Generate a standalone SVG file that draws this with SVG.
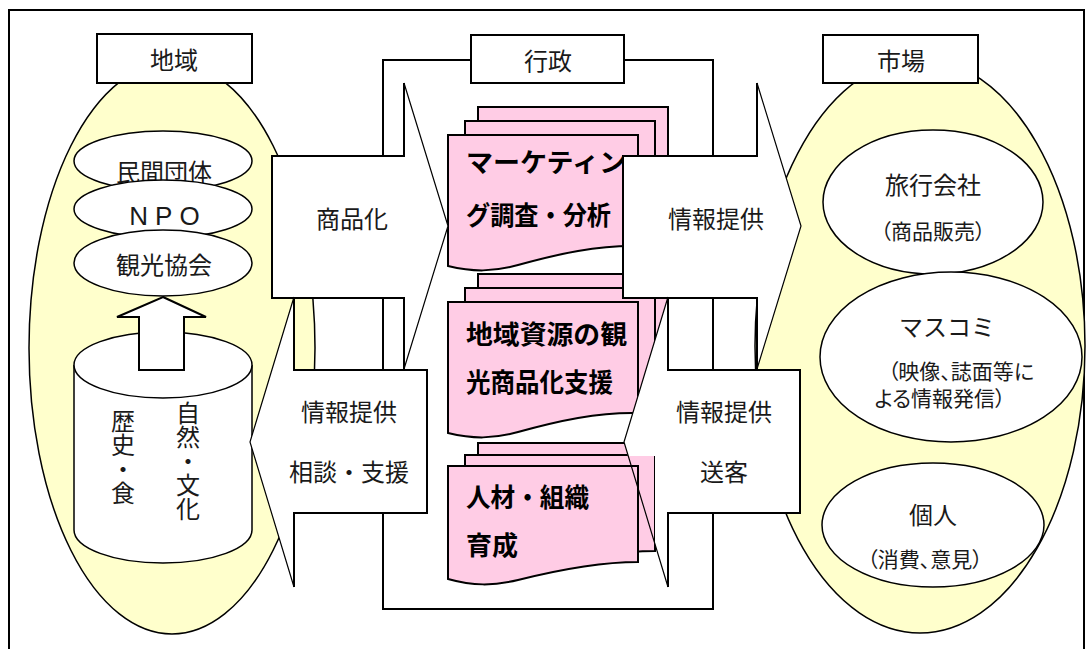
<svg xmlns="http://www.w3.org/2000/svg" width="1087" height="649" viewBox="0 0 1087 649">
<style>
.t{font-family:"Noto Sans CJK JP","Noto Sans CJK SC",sans-serif;font-size:24px;fill:#1a1a1a;text-anchor:middle;dominant-baseline:central}
.s{font-size:21px;font-feature-settings:"palt"}
.b{font-weight:bold;font-size:26px;text-anchor:start;fill:#000}
.v{writing-mode:vertical-rl;text-anchor:start}
.lat{font-family:"Liberation Sans",Arial,sans-serif;font-size:26px;letter-spacing:7px}
.y{fill:#FFFFCC;stroke:#000;stroke-width:1.5}
.w{fill:#fff;stroke:#000;stroke-width:1.5}
.box{fill:#fff;stroke:#000;stroke-width:2}
.pk{fill:#FFCCE5;stroke:#000;stroke-width:2}
.af{fill:#fff;stroke:none}
.ae{fill:none;stroke:#000;stroke-width:2}
.ad{fill:none;stroke:#000;stroke-width:1.2}
</style>
<defs>
<path id="pageA" d="M0,0 H190 V111 C150,110 110,119 70,130 C45,137 25,137 0,131 Z"/>
<path id="pageB" d="M0,0 H190 V96 C150,96 110,104 70,114 C45,120 25,120 0,113 Z"/>
</defs>
<rect x="9" y="10" width="1075" height="660" fill="#fff" stroke="#000" stroke-width="2"/>

<g id="region-bg">
<ellipse class="y" cx="172" cy="348" rx="143" ry="286"/>
</g>
<g id="market-bg">
<ellipse class="y" cx="920" cy="346" rx="165" ry="287"/>
</g>
<g id="gov-frame">
<rect x="383" y="60" width="330" height="549" fill="none" stroke="#000" stroke-width="2"/>
</g>

<g id="minkan">
<ellipse class="w" cx="163" cy="161" rx="89" ry="30"/>
<text class="t" x="164" y="170">民間団体</text>
</g>
<g id="npo">
<ellipse class="w" cx="163" cy="209" rx="89" ry="29"/>
<text class="t lat" x="168" y="216">NPO</text>
</g>
<g id="kanko">
<ellipse class="w" cx="163" cy="263" rx="89" ry="33"/>
<text class="t" x="164" y="263">観光協会</text>
</g>
<g id="resources">
<path class="w" d="M74,365 V530 A89,33 0 0 0 252,530 V365"/>
<ellipse class="w" cx="163" cy="365" rx="89" ry="33"/>
<text class="t v" x="188" y="401" font-size="22.5">自然・文化</text>
<text class="t v" x="123" y="409" font-size="24">歴史・食</text>
</g>
<g id="up-arrow">
<polygon points="163,297 206,317 184,317 184,370 139,370 139,317 117,317" fill="#fff" stroke="#000" stroke-width="2"/>
</g>

<g id="travel">
<ellipse class="w" cx="933" cy="202" rx="110" ry="72"/>
<text class="t" x="933" y="183">旅行会社</text>
<text class="t s" x="933" y="230">（商品販売）</text>
</g>
<g id="media">
<ellipse class="w" cx="951" cy="357" rx="131" ry="85"/>
<text class="t" x="947" y="325">マスコミ</text>
<text class="t s" x="961" y="370">（映像、誌面等に</text>
<text class="t s" x="940" y="397">よる情報発信）</text>
</g>
<g id="individual">
<ellipse class="w" cx="933" cy="525" rx="111" ry="62"/>
<text class="t" x="933" y="513">個人</text>
<text class="t s" x="925" y="558">（消費、意見）</text>
</g>

<g id="doc-marketing">
<use href="#pageA" class="pk" x="478" y="107"/>
<use href="#pageA" class="pk" x="465" y="121"/>
<use href="#pageA" class="pk" x="448" y="135"/>
<text class="t b" x="466" y="160" textLength="160" lengthAdjust="spacingAndGlyphs">マーケティン</text>
<text class="t b" x="466" y="213" textLength="145" lengthAdjust="spacingAndGlyphs">グ調査・分析</text>
</g>
<g id="doc-support">
<use href="#pageA" class="pk" x="478" y="274"/>
<use href="#pageA" class="pk" x="465" y="288"/>
<use href="#pageA" class="pk" x="448" y="302"/>
<text class="t b" x="466" y="332" textLength="161" lengthAdjust="spacingAndGlyphs">地域資源の観</text>
<text class="t b" x="466" y="380" textLength="147" lengthAdjust="spacingAndGlyphs">光商品化支援</text>
</g>
<g id="doc-hr">
<use href="#pageB" class="pk" x="478" y="443"/>
<use href="#pageB" class="pk" x="465" y="455"/>
<use href="#pageB" class="pk" x="448" y="466"/>
<text class="t b" x="466" y="495" textLength="123" lengthAdjust="spacingAndGlyphs">人材・組織</text>
<text class="t b" x="466" y="543">育成</text>
</g>

<g id="connectors">
<g id="arrow-commercialize">
<polygon class="af" points="272,156 404,156 404,83 448,226 404,369 404,298 272,298"/>
<path class="ae" d="M404,83 V156 H272 V298 H404 V369"/>
<path class="ad" d="M404,83 L448,226 L404,369"/>
<text class="t" x="352" y="217">商品化</text>
</g>
<g id="arrow-consult">
<polygon class="af" points="427,370 294,370 294,297 250,442 294,587 294,513 427,513"/>
<path class="ae" d="M294,297 V370 H427 V513 H294 V587"/>
<path class="ad" d="M294,297 L250,442 L294,587"/>
<text class="t" x="349" y="410">情報提供</text>
<text class="t" x="349" y="470">相談・支援</text>
</g>
<g id="arrow-info">
<polygon class="af" points="623,156 757,156 757,83 801,226 757,369 757,298 623,298"/>
<path class="ae" d="M757,83 V156 H623 V298 H757 V369"/>
<path class="ad" d="M757,83 L801,226 L757,369"/>
<text class="t" x="716" y="217">情報提供</text>
</g>
<g id="arrow-send">
<polygon class="af" points="800,370 668,370 668,297 624,442 628,456 655,456 655,544 668,587 668,513 800,513"/>
<path class="ae" d="M668,297 V370 H800 V513 H668 V587"/>
<path class="ad" d="M668,297 L624,442 L668,587"/>
<text class="t" x="724" y="410">情報提供</text>
<text class="t" x="724" y="470">送客</text>
</g>
</g>

<g id="box-region">
<rect class="box" x="97" y="34" width="155" height="49"/>
<text class="t" x="174" y="58">地域</text>
</g>
<g id="box-gov">
<rect class="box" x="471" y="35" width="153" height="48"/>
<text class="t" x="548" y="59">行政</text>
</g>
<g id="box-market">
<rect class="box" x="823" y="35" width="155" height="48"/>
<text class="t" x="901" y="59">市場</text>
</g>
</svg>
